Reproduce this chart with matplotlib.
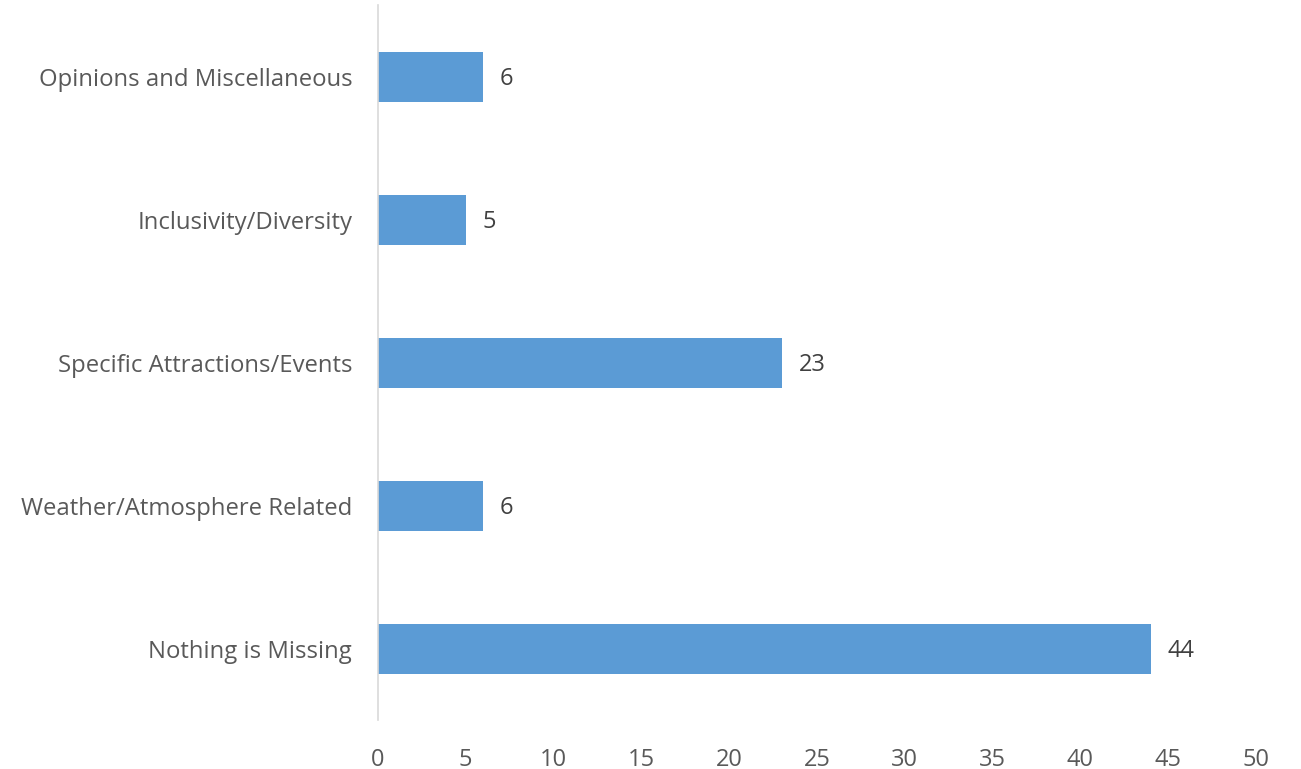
import matplotlib.pyplot as plt

plt.rcParams['font.family'] = ['Open Sans', 'DejaVu Sans']

categories = ['Nothing is Missing', 'Weather/Atmosphere Related',
              'Specific Attractions/Events', 'Inclusivity/Diversity',
              'Opinions and Miscellaneous']
counts = [44, 6, 23, 5, 6]
x_ticks = [0, 5, 10, 15, 20, 25, 30, 35, 40, 45, 50]

fig = plt.figure(figsize=(13.01, 7.69), dpi=100)
ax = fig.add_axes([0.2905, 0.0631, 0.6749, 0.9298])

bars = ax.barh(range(len(categories)), counts, height=0.35, color='#5B9BD5')
ax.set_xlim(0, 50)
ax.set_ylim(-0.5, len(categories) - 0.5)
ax.set_yticks(range(len(categories)))
ax.set_yticklabels(categories, fontsize=17.2, color='#595959')
ax.set_xticks(x_ticks)
ax.set_xticklabels([str(t) for t in x_ticks], fontsize=17, color='#595959')
ax.tick_params(axis='y', length=0, pad=18.5)
ax.tick_params(axis='x', length=0, pad=19.5)

for s in ['top', 'right', 'bottom']:
    ax.spines[s].set_visible(False)
ax.spines['left'].set_color('#D9D9D9')
ax.spines['left'].set_linewidth(1.2)

for bar, v in zip(bars, counts):
    ax.annotate(str(v), xy=(v, bar.get_y() + bar.get_height() / 2),
                xytext=(12, -1.5), textcoords='offset points',
                ha='left', va='center', fontsize=17, color='#404040')

fig.savefig('out.png', dpi=100)
